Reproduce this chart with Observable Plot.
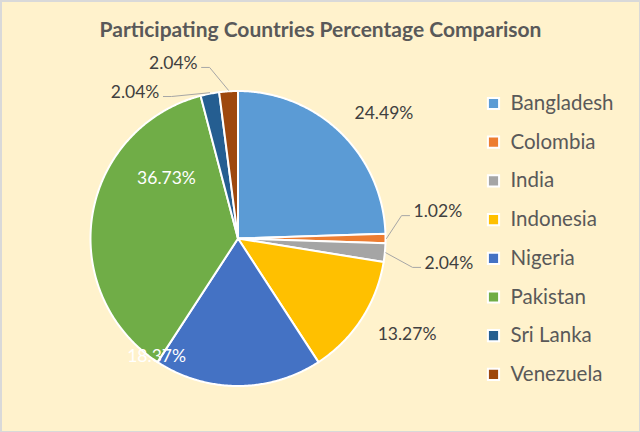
<!DOCTYPE html>
<html>
<head>
<meta charset="utf-8">
<script src="https://cdn.jsdelivr.net/npm/d3@7"></script>
<script src="https://cdn.jsdelivr.net/npm/@observablehq/plot@0.6"></script>
<style>
  html, body { margin: 0; padding: 0; background: #ffffff; }
  #chart { width: 640px; height: 432px; }
  #chart svg { display: block; }
</style>
</head>
<body>
<div id="chart"></div>
<script>
// ---- data ----
const title = "Participating Countries Percentage Comparison";
const countries = ["Bangladesh", "Colombia", "India", "Indonesia", "Nigeria", "Pakistan", "Sri Lanka", "Venezuela"];
const percents = [24.49, 1.02, 2.04, 13.27, 18.37, 36.73, 2.04, 2.04];
const colors = ["#5B9BD5", "#ED7D31", "#A5A5A5", "#FFC000", "#4472C4", "#70AD47", "#255E91", "#9E480E"];

// ---- layout (not data) ----
const W = 640, H = 432;
const cx = 237.5, cy = 238, R = 147.5;
// label placement: polar position (degrees clockwise from 12 o'clock, radius factor)
const labelLayout = {
  "Bangladesh": {angle: 49.4, r: 1.303, kind: "out"},
  "Colombia":   {angle: 81.3, r: 1.204, kind: "leader", side: 1},
  "India":      {angle: 97.6, r: 1.276, kind: "leader", side: 1},
  "Indonesia":  {angle: 119.6, r: 1.318, kind: "out"},
  "Nigeria":    {angle: 214.6, r: 0.972, kind: "in"},
  "Pakistan":   {angle: 310, r: 0.633, kind: "in"},
  "Sri Lanka":  {angle: 331.7, r: 1.124, kind: "leader", side: -1},
  "Venezuela":  {angle: 347, r: 1.218, kind: "leader", side: -1}
};
const legendX = 493, legendTextX = 510, legendTop = 103, legendStep = 38.7;

const rows = countries.map((c, i) => ({country: c, value: percents[i]}));
const arcs = d3.pie().sort(null).value(d => d.value)(rows);

const polar = (a, r) => ({x: cx + r * Math.sin(a), y: cy - r * Math.cos(a)});
const rad = deg => deg * Math.PI / 180;

// slice polygons derived from the pie angles
const slicePts = [];
for (const a of arcs) {
  const c = a.data.country;
  slicePts.push({country: c, x: cx, y: cy});
  const n = Math.max(2, Math.ceil((a.endAngle - a.startAngle) / rad(0.5)));
  for (let k = 0; k <= n; k++) {
    const t = a.startAngle + (a.endAngle - a.startAngle) * k / n;
    const p = polar(t, R);
    slicePts.push({country: c, x: p.x, y: p.y});
  }
}

// labels and leader lines
const fmt = v => d3.format(".2f")(v) + "%";
const labels = [];
const leaders = [];
for (const a of arcs) {
  const c = a.data.country;
  const L = labelLayout[c];
  const p = polar(rad(L.angle), L.r * R);
  const lab = {country: c, text: fmt(a.data.value), x: p.x, y: p.y, kind: L.kind, side: L.side};
  labels.push(lab);
  if (L.kind === "leader") {
    const mid = (a.startAngle + a.endAngle) / 2;
    const e = polar(mid, R + 1);
    const endX = p.x - L.side * 4, endY = p.y + 4;
    const elbX = endX - L.side * 8;
    leaders.push({country: c, x: e.x, y: e.y});
    leaders.push({country: c, x: elbX, y: endY});
    leaders.push({country: c, x: endX, y: endY});
  }
}

const font = "Lato, 'Open Sans', sans-serif";

const plot = Plot.plot({
  width: W, height: H,
  margin: 0,
  x: {domain: [0, W], range: [0, W], axis: null},
  y: {domain: [0, H], range: [0, H], axis: null},
  color: {domain: countries, range: colors, type: "ordinal"},
  style: {background: "#FFF2CC", fontFamily: font, overflow: "visible"},
  marks: [
    Plot.frame({stroke: "#D9D9D9", strokeWidth: 3}),
    Plot.line(slicePts, {x: "x", y: "y", z: "country", fill: "country", stroke: "white", strokeWidth: 2, strokeLinejoin: "round", curve: "linear-closed"}),
    Plot.line(leaders, {x: "x", y: "y", z: "country", stroke: "#A6A6A6", strokeWidth: 1}),
    Plot.text(labels.filter(d => d.kind === "out"), {x: "x", y: "y", text: "text", fill: "#404040", fontSize: 17.5, textAnchor: "middle"}),
    Plot.text(labels.filter(d => d.kind === "in"), {x: "x", y: "y", text: "text", fill: "#ffffff", fontSize: 17.5, textAnchor: "middle"}),
    Plot.text(labels.filter(d => d.kind === "leader" && d.side > 0), {x: "x", y: "y", text: "text", fill: "#404040", fontSize: 17.5, textAnchor: "start"}),
    Plot.text(labels.filter(d => d.kind === "leader" && d.side < 0), {x: "x", y: "y", text: "text", fill: "#404040", fontSize: 17.5, textAnchor: "end"}),
    Plot.text([title], {frameAnchor: "top", dy: 30, lineAnchor: "middle", text: d => d, fill: "#595959", fontSize: 21, fontWeight: "bold"}),
    Plot.dot(countries, {x: () => legendX, y: (d, i) => legendTop + i * legendStep, symbol: "square", r: 6.3, fill: d => d, stroke: "white", strokeWidth: 2}),
    Plot.text(countries, {x: () => legendTextX, y: (d, i) => legendTop + i * legendStep, text: d => d, textAnchor: "start", fill: "#595959", fontSize: 20.5})
  ]
});
document.getElementById("chart").appendChild(plot);
</script>
</body>
</html>
